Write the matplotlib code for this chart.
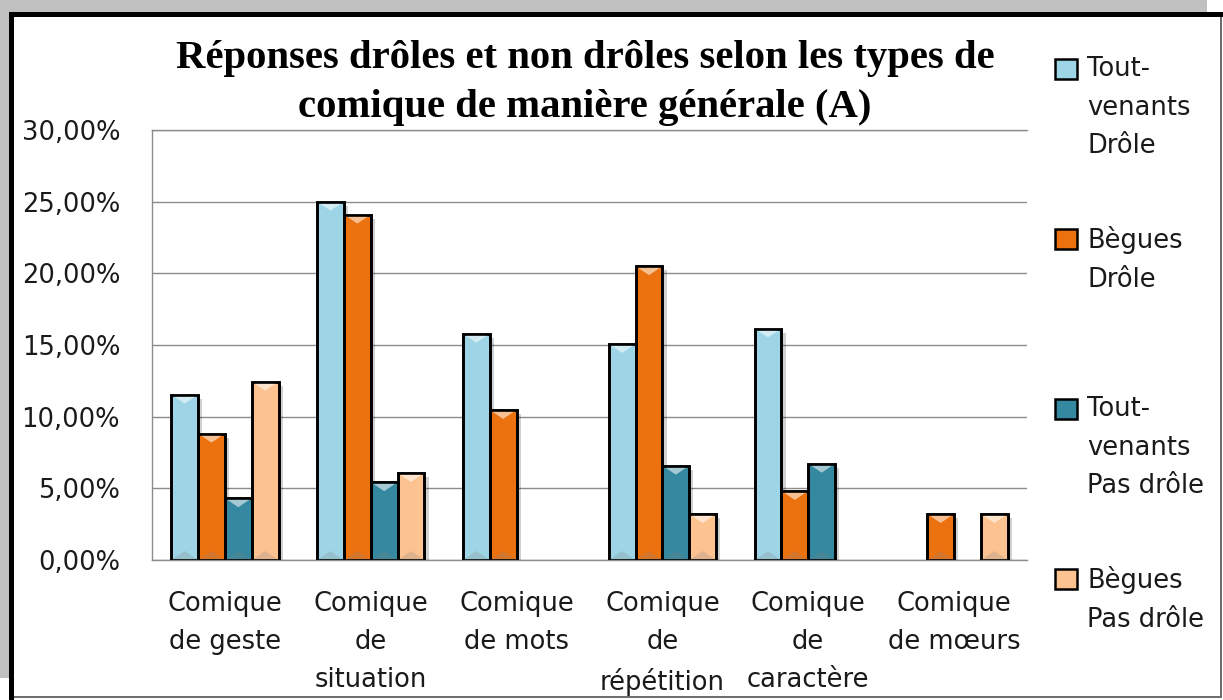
import matplotlib
matplotlib.use("Agg")
import matplotlib.pyplot as plt
from matplotlib.patches import Rectangle, Polygon
from matplotlib.ticker import FuncFormatter
from matplotlib.colors import to_rgb
import matplotlib.patheffects as pe
import numpy as np

# ---- data ----
categories = ["Comique\nde geste", "Comique\nde\nsituation", "Comique\nde mots",
              "Comique\nde\nrépétition", "Comique\nde\ncaractère", "Comique\nde mœurs"]
series_names = ["Tout-\nvenants\nDrôle", "Bègues\nDrôle",
                "Tout-\nvenants\nPas drôle", "Bègues\nPas drôle"]
tv_drole = [0.1154, 0.2500, 0.1578, 0.1508, 0.1615, 0.0]
beg_drole = [0.0882, 0.2410, 0.1047, 0.2050, 0.0482, 0.0321]
tv_pas_drole = [0.0431, 0.0543, 0.0, 0.0658, 0.0672, 0.0]
beg_pas_drole = [0.1245, 0.0607, 0.0, 0.0321, 0.0, 0.0321]
series_values = [tv_drole, beg_drole, tv_pas_drole, beg_pas_drole]
colors = ["#9ED5E6", "#EC7210", "#34889F", "#FCC390"]
yticks = [0.0, 0.05, 0.10, 0.15, 0.20, 0.25, 0.30]
title = "Réponses drôles et non drôles selon les types de\ncomique de manière générale (A)"

W, H = 1223, 700
fig = plt.figure(figsize=(W / 100, H / 100), dpi=100)
fig.patch.set_facecolor("white")

def px(x0, y0, x1, y1, color):
    fig.patches.append(Rectangle((x0 / W, 1 - y1 / H), (x1 - x0) / W, (y1 - y0) / H,
                                 transform=fig.transFigure, facecolor=color,
                                 edgecolor="none", zorder=0))

def blend(c, other, t):
    a = np.array(to_rgb(c)); b = np.array(to_rgb(other))
    return tuple(a * (1 - t) + b * t)

# frame decorations
px(0, 0, 1207, 12, "#C0C0C0")
px(0, 12, 9, 678, "#C0C0C0")
px(9, 12, W, 17, "black")
px(9, 12, 14, H, "black")
px(1220, 17, 1222, 697, "#6E6E6E")
px(14, 696, 1222, 698, "#6E6E6E")

ax = fig.add_axes([152 / W, 1 - 560 / H, (1027 - 152) / W, (560 - 130) / H])
ax.set_facecolor("none")

x = np.arange(len(categories))
w = 0.184
offsets = [-1.5, -0.5, 0.5, 1.5]
tri_h = 0.30 * 9 / 430  # bevel triangle height (~9 px)
for vals, col, off in zip(series_values, colors, offsets):
    bars = ax.bar(x + off * w, vals, width=w, color=col, edgecolor="black",
                  linewidth=1.9, zorder=3)
    for b, v in zip(bars, vals):
        if v == 0:
            b.set_visible(False)
            continue
        b.set_path_effects([pe.SimplePatchShadow(offset=(3, -3), shadow_rgbFace="black", alpha=0.18),
                            pe.Normal()])
        x0 = b.get_x(); x1 = x0 + b.get_width(); xc = (x0 + x1) / 2; top = b.get_height()
        ax.add_patch(Polygon([(x0, top), (x1, top), (xc, top - tri_h)], closed=True,
                             facecolor=blend(col, "white", 0.55), edgecolor="none", zorder=3.5))
        ax.add_patch(Polygon([(x0, 0), (x1, 0), (xc, tri_h)], closed=True,
                             facecolor=blend(col, "#808080", 0.25), edgecolor="none", zorder=3.5))
        ax.add_patch(Rectangle((x0, 0), x1 - x0, top, facecolor="none", edgecolor="black",
                               linewidth=1.9, zorder=3.6))

ax.set_xlim(-0.5, len(categories) - 0.5)
ax.set_ylim(0, 0.30)
ax.set_yticks(yticks)
ax.yaxis.set_major_formatter(FuncFormatter(lambda v, p: f"{v*100:.2f}%".replace(".", ",")))
ax.yaxis.grid(True, color="#8C8C8C", linewidth=1.0, zorder=0)
ax.set_axisbelow(True)
ax.set_xticks(x)
ax.set_xticklabels(categories, fontsize=18.5, linespacing=1.6)
ax.tick_params(axis="y", length=0, pad=23, labelsize=18.5, labelcolor="#1a1a1a")
ax.tick_params(axis="x", length=0, pad=22, labelcolor="#1a1a1a")
ax.spines["right"].set_visible(False)
for s in ["left", "bottom", "top"]:
    ax.spines[s].set_color("#8C8C8C")
    ax.spines[s].set_linewidth(1.0)

# title
fig.text(585 / W, 1 - 83 / H, title, ha="center", va="center", fontsize=29.3,
         family="Liberation Serif", fontweight="bold", linespacing=1.43)

# legend (manual placement to mirror the reference layout)
legend_tops = [56, 226, 396, 566]
for name, col, top in zip(series_names, colors, legend_tops):
    fig.patches.append(Rectangle((1055 / W, 1 - (top + 23) / H), 22 / W, 20 / H,
                                 transform=fig.transFigure, facecolor=col,
                                 edgecolor="black", linewidth=1.8, zorder=3))
    fig.text(1087 / W, 1 - top / H, name, ha="left", va="top", fontsize=18.5,
             linespacing=1.63, color="#1a1a1a")

fig.savefig("out.png", dpi=100)
